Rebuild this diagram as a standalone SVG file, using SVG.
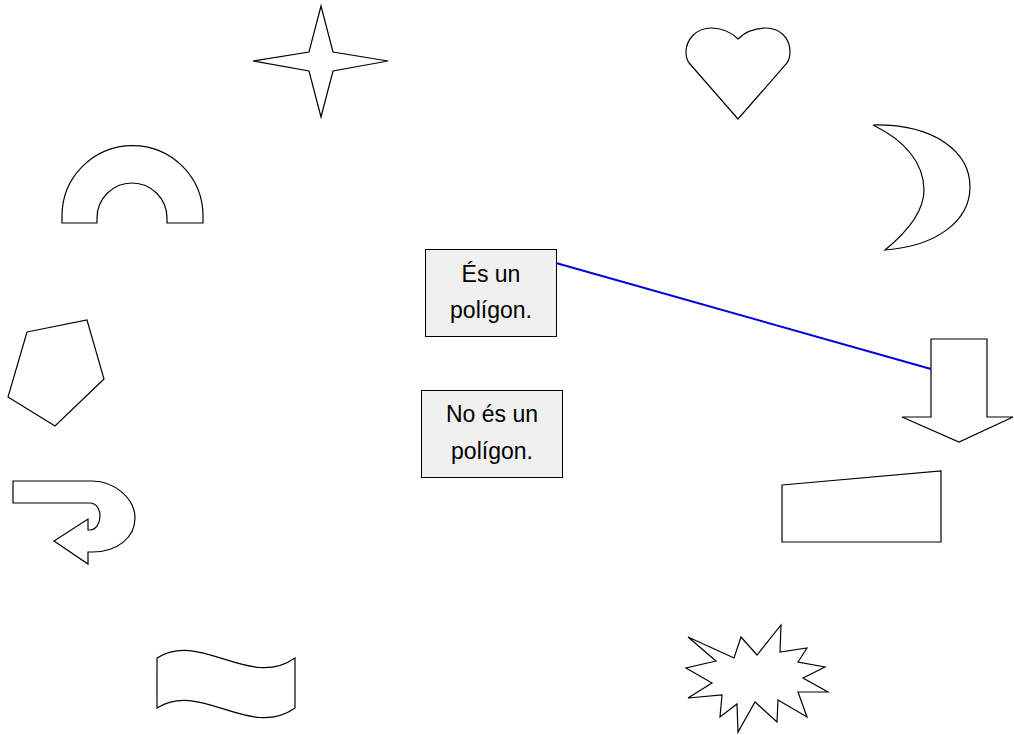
<svg xmlns="http://www.w3.org/2000/svg" width="1014" height="735" viewBox="0 0 1014 735">
<style>
.shape{fill:#ffffff;stroke:#000000;stroke-width:1.2;stroke-linejoin:miter}
.box{fill:#f0f0f0;stroke:#000000;stroke-width:1}
.lbl{font-family:"Liberation Sans",Arial,sans-serif;font-size:23px;fill:#000000;text-anchor:middle}
.conn{stroke:#0000dd;stroke-width:2;fill:none}
</style>
<rect x="0" y="0" width="1014" height="735" fill="#ffffff"/>
<g id="star"><polygon class="shape" points="321,6 333,52 388,61 333,71 321,117 309,71 253,61 309,52"/></g>
<g id="heart"><path class="shape" d="M738,39 C730,31 721,28 711,28 C696,28 686,40 686,52 C686,58 688,62 690,64 L738,119 L787,63 C789,60 790,56 790,52 C790,38 780,28 766,28 C756,28 746,31 738,39 Z"/></g>
<g id="moon"><path class="shape" d="M873,125 C935,124 970,152 970,187 C970,220 938,246 885,250 C912,228 924,208 924,190 C924,164 906,141 873,125 Z"/></g>
<g id="arch"><path class="shape" d="M62,223 L62,216 A70.5,70.5 0 0 1 203,216 L203,223 L167,223 L167,218 A35,35 0 0 0 97,218 L97,223 Z"/></g>
<g id="pentagon"><polygon class="shape" points="27,332 87,320 104,379 55,426 8,397"/></g>
<g id="uturn"><path class="shape" d="M13,481 L92,481 C115,481 135,499 135,518 C135,537 118,552 92,552 L88,552 L88,564 L54,541 L88,519 L88,530 L90,530 C96,530 100,523 100,516 C100,509 96,503 90,503 L13,503 Z"/></g>
<g id="wave"><path class="shape" d="M157,658 C200,630 250,690 295,658 L295,708 C250,740 200,680 157,708 Z"/></g>
<g id="explosion"><polygon class="shape" points="688,637 734,658 741,637 757,655 781,625 780,652 807,648 798,662 825,667 803,678 828,692 798,692 807,717 778,700 777,722 755,702 738,732 737,704 720,717 722,695 688,698 712,683 686,668 716,661"/></g>
<g id="trapezoid"><polygon class="shape" points="782,485 941,471 941,542 782,542"/></g>
<g id="downarrow"><polygon class="shape" points="931,339 987,339 987,417 1013,417 959,442 902,417 931,417"/></g>
<g id="box-poligon">
<rect class="box" x="425.5" y="249.5" width="131" height="87"/>
<text class="lbl" x="491" y="282">És un</text>
<text class="lbl" x="491" y="318">polígon.</text>
</g>
<g id="box-nopoligon">
<rect class="box" x="421.5" y="390.5" width="141" height="87"/>
<text class="lbl" x="492" y="422">No és un</text>
<text class="lbl" x="492" y="459">polígon.</text>
</g>
<g id="connectors">
<line class="conn" x1="556" y1="263" x2="931" y2="369"/>
</g>
</svg>
